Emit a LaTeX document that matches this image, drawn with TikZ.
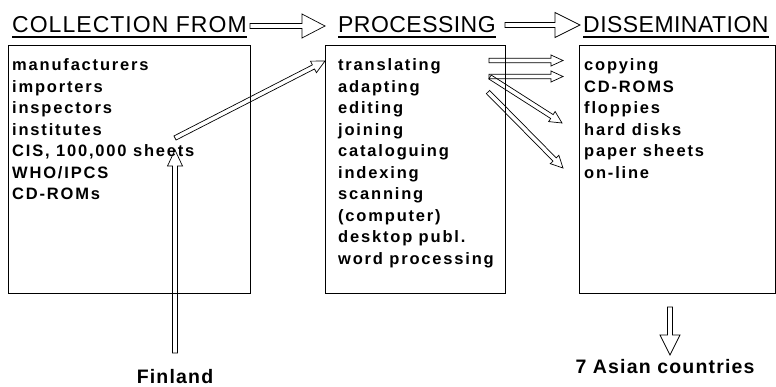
\documentclass[tikz,border=0pt]{standalone}
\usepackage{fontspec}
\setmainfont{Liberation Sans}
\newfontfamily\itemfam[LetterSpace=11]{Liberation Sans}
\newfontfamily\titlefam[LetterSpace=4.5]{Liberation Sans}
\newfontfamily\titlefamb[LetterSpace=2]{Liberation Sans}
\newfontfamily\labelfam[LetterSpace=6]{Liberation Sans}
\usetikzlibrary{calc}

\begin{document}
\begin{tikzpicture}[
    x=1pt, y=-1pt,
    box/.style={rectangle, draw=black, line width=0.8pt, anchor=north west, inner sep=0pt, minimum height=248pt},
    items/.style={font=\itemfam\fontsize{16.5pt}{21.5pt}\selectfont\bfseries, align=left, anchor=base west, inner sep=0pt},
    title/.style={font=\titlefamb\fontsize{23pt}{26pt}\selectfont, anchor=base west, inner sep=0pt},
    place/.style={font=\labelfam\fontsize{19.5pt}{22pt}\selectfont\bfseries, inner sep=0pt},
    uline/.style={line width=1.4pt},
    hollowline/.style={draw=black, line width=0.7pt, line join=miter},
    hollow/.style n args={3}{to path={
        let \p1=($(\tikztotarget)!#3!(\tikztostart)$) in
        ($(\tikztostart)!#1!90:(\tikztotarget)$) -- ($(\p1)!#1!90:(\tikztotarget)$)
        -- ($(\p1)!#2!90:(\tikztotarget)$) -- (\tikztotarget)
        -- ($(\p1)!#2!-90:(\tikztotarget)$) -- ($(\p1)!#1!-90:(\tikztotarget)$)
        -- ($(\tikztostart)!#1!-90:(\tikztotarget)$) -- cycle}},
]
    \useasboundingbox (0,0) rectangle (776,386);

    % titles
    \node[title, font=\titlefam\fontsize{23pt}{26pt}\selectfont] (tcoll) at (12,32.5) {COLLECTION FROM};
    \node[title] (tproc) at (338,32.5) {PROCESSING};
    \node[title] (tdiss) at (583,32.5) {DISSEMINATION};
    \draw[uline] ([yshift=-4.5pt]tcoll.base west) -- ([yshift=-4.5pt]tcoll.base east);
    \draw[uline] ([yshift=-4.5pt]tproc.base west) -- ([yshift=-4.5pt]tproc.base east);
    \draw[uline] ([yshift=-4.5pt]tdiss.base west) -- ([yshift=-4.5pt]tdiss.base east);

    % boxes
    \node[box, minimum width=242pt] (coll) at (8,45) {};
    \node[box, minimum width=180pt] (proc) at (325,45) {};
    \node[box, minimum width=196pt] (diss) at (579,45) {};

    % lists (anchored on the baseline of their last line)
    \node[items] (collitems) at (12,199.5) {manufacturers\\importers\\inspectors\\institutes\\CIS, 100,000 sheets\\WHO/IPCS\\CD-ROMs};
    \node[items] (procitems) at (338,264) {translating\\adapting\\editing\\joining\\cataloguing\\indexing\\scanning\\(computer)\\desktop publ.\\word processing};
    \node[items] (dissitems) at (584,178) {copying\\CD-ROMS\\floppies\\hard disks\\paper sheets\\on-line};

    \node[place] (finland) at (175,376.5) {Finland};
    \node[place] (asia) at (665,367) {7 Asian countries};

    % arrow ends
    \coordinate (t1a) at (250,26);
    \coordinate (t1b) at (325,26);
    \coordinate (t2a) at (505,25);
    \coordinate (t2b) at (580,25);
    \coordinate (cis) at (175,138);
    \coordinate (trans) at (325,61);
    \coordinate (fin) at (175,353);
    \coordinate (finup) at (175,150);
    \coordinate (pa) at (489,60.5);
    \coordinate (pb) at (489,76.5);
    \coordinate (pc) at (490,77);
    \coordinate (pd) at (488,92);
    \coordinate (copy) at (563,60.5);
    \coordinate (cdrom) at (563,76.5);
    \coordinate (hard) at (562,123);
    \coordinate (online) at (563,168);
    \coordinate (down) at (670,307);
    \coordinate (downtip) at (670,355);

    \draw[hollowline] (t1a) to[hollow={2.5pt}{12pt}{23pt}] (t1b);
    \draw[hollowline] (t2a) to[hollow={2.5pt}{12.5pt}{25pt}] (t2b);
    \draw[hollowline] (cis) to[hollow={2.3pt}{6.5pt}{13pt}] (trans);
    \draw[hollowline] (fin) to[hollow={2.5pt}{7.5pt}{16pt}] (finup);
    \draw[hollowline] (pa) to[hollow={2.2pt}{5.5pt}{12pt}] (copy);
    \draw[hollowline] (pb) to[hollow={2.2pt}{5.5pt}{12pt}] (cdrom);
    \draw[hollowline] (pc) to[hollow={2.3pt}{6pt}{12pt}] (hard);
    \draw[hollowline] (pd) to[hollow={2.3pt}{6pt}{12pt}] (online);
    \draw[hollowline] (down) to[hollow={2.5pt}{10pt}{20pt}] (downtip);
\end{tikzpicture}
\end{document}
